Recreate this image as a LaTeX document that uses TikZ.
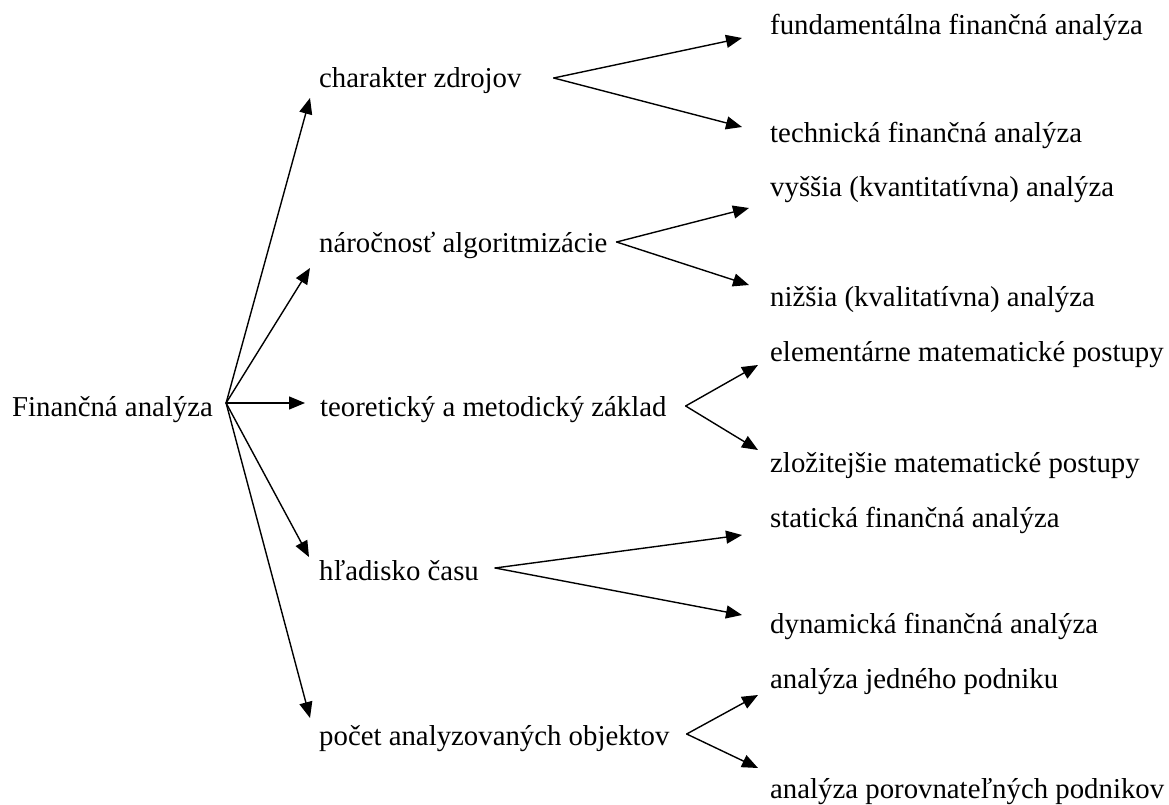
\documentclass[tikz,border=0pt]{standalone}
\usepackage{fontspec}
\setmainfont{Liberation Serif}
\usetikzlibrary{arrows.meta}
\tikzset{
  every node/.style={font=\fontsize{28.8}{34}\selectfont},
  lbl/.style={inner sep=0pt, anchor=base west},
  arr/.style={line width=1.4pt, line cap=round, -{Triangle[length=16pt,width=13pt]}}
}

\begin{document}
\begin{tikzpicture}[x=1pt,y=1pt]
  \useasboundingbox (0,0) rectangle (1169,804);

  \node[lbl] (root) at (12,387) {Finančná analýza};

  \node[lbl] (zdroje) at (319,716) {charakter zdrojov};
  \node[lbl] (algor) at (319,551) {náročnosť algoritmizácie};
  \node[lbl] (zaklad) at (320,387) {teoretický a metodický základ};
  \node[lbl] (cas) at (319,224) {hľadisko času};
  \node[lbl] (objekty) at (319,59) {počet analyzovaných objektov};

  \node[lbl] (fund) at (770,769) {fundamentálna finančná analýza};
  \node[lbl] (tech) at (770,661) {technická finančná analýza};
  \node[lbl] (vyssia) at (770,607) {vyššia (kvantitatívna) analýza};
  \node[lbl] (nizsia) at (770,497) {nižšia (kvalitatívna) analýza};
  \node[lbl] (elem) at (770,442) {elementárne matematické postupy};
  \node[lbl] (zloz) at (770,332) {zložitejšie matematické postupy};
  \node[lbl] (stat) at (770,277) {statická finančná analýza};
  \node[lbl] (dyn) at (770,171) {dynamická finančná analýza};
  \node[lbl] (jeden) at (770,116) {analýza jedného podniku};
  \node[lbl] (porov) at (770,6) {analýza porovnateľných podnikov};

  % first level
  \coordinate (root-o) at ([xshift=13pt,yshift=14pt]root.base east);
  \foreach \n/\dx/\dy in {zdroje/-9/-10, algor/-9/-15, zaklad/-15/14,
      cas/-10/23, objekty/-9/27}
    \draw[arr] (root-o) -- ([xshift=\dx pt,yshift=\dy pt]\n.base west);

  % second level
  \foreach \n/\ox/\oy/\a/\ay/\b/\by/\tx in {
      zdroje/32/10/fund/-3/tech/16/-28,
      algor/9/11/vyssia/-11/nizsia/22/-21,
      zaklad/19/11/elem/-3/zloz/22/-12,
      cas/16/12/stat/-8/dyn/18/-28,
      objekty/17/11/jeden/-7/porov/30/-12} {
    \coordinate (\n-o) at ([xshift=\ox pt,yshift=\oy pt]\n.base east);
    \draw[arr] (\n-o) -- ([xshift=\tx pt,yshift=\ay pt]\a.base west);
    \draw[arr] (\n-o) -- ([xshift=\tx pt,yshift=\by pt]\b.base west);
  }
\end{tikzpicture}
\end{document}
